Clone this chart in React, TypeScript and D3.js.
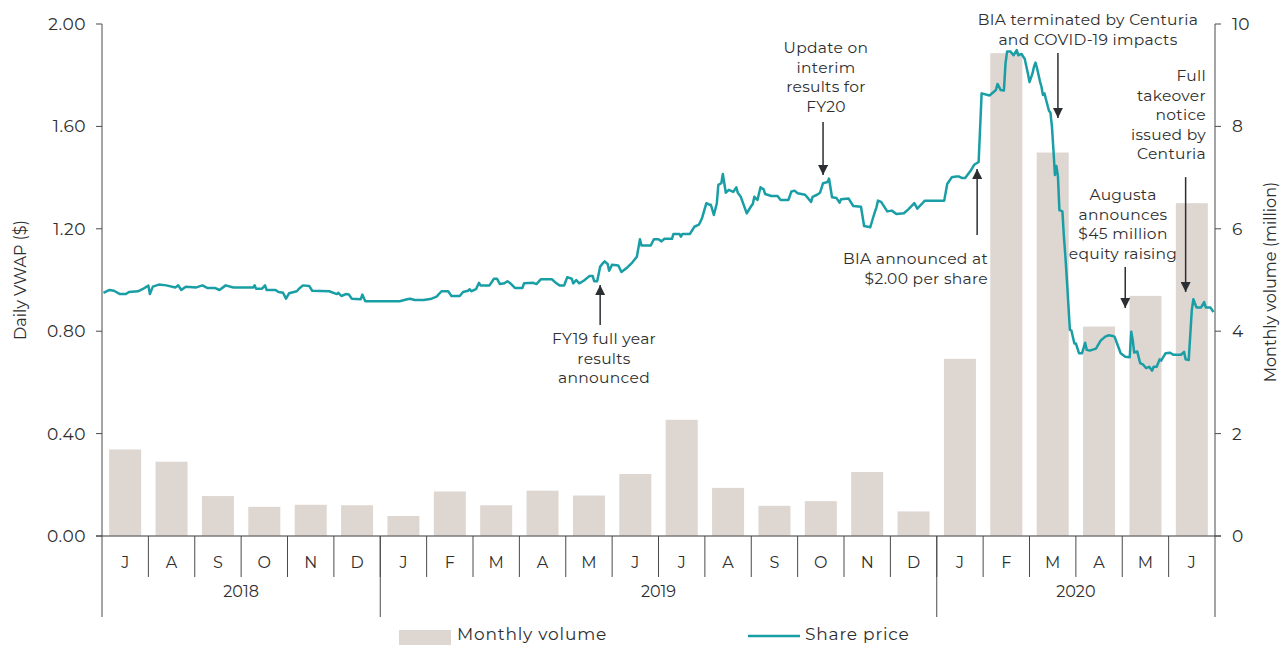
import React from "react";
import * as d3 from "d3";

// month labels, Jul 2018 .. Jun 2020
const months = ["J", "A", "S", "O", "N", "D", "J", "F", "M", "A", "M", "J", "J", "A", "S", "O", "N", "D", "J", "F", "M", "A", "M", "J"];
const years = [
  { label: "2018", from: 0, to: 6 },
  { label: "2019", from: 6, to: 18 },
  { label: "2020", from: 18, to: 24 },
];
// monthly volume (million)
const volume = [1.69, 1.45, 0.78, 0.57, 0.61, 0.6, 0.39, 0.87, 0.6, 0.885, 0.79, 1.21, 2.27, 0.94, 0.59, 0.68, 1.25, 0.48, 3.46, 9.43, 7.49, 4.09, 4.69, 6.5];
const priceTicks = [0, 0.4, 0.8, 1.2, 1.6, 2.0];
const volumeTicks = [0, 2, 4, 6, 8, 10];

// daily VWAP ($)
const sharePrice: [string, number][] = [
  ["2018-07-02", 0.95], ["2018-07-06", 0.961], ["2018-07-09", 0.958], ["2018-07-13", 0.945], ["2018-07-17", 0.945],
  ["2018-07-19", 0.953], ["2018-07-25", 0.956], ["2018-07-28", 0.964], ["2018-08-01", 0.978], ["2018-08-02", 0.945],
  ["2018-08-04", 0.974], ["2018-08-08", 0.982], ["2018-08-13", 0.979], ["2018-08-19", 0.971], ["2018-08-21", 0.979],
  ["2018-08-23", 0.961], ["2018-08-26", 0.974], ["2018-09-02", 0.971], ["2018-09-06", 0.979], ["2018-09-09", 0.969],
  ["2018-09-14", 0.969], ["2018-09-17", 0.961], ["2018-09-21", 0.979], ["2018-09-26", 0.971], ["2018-10-09", 0.971],
  ["2018-10-10", 0.979], ["2018-10-11", 0.966], ["2018-10-15", 0.966], ["2018-10-17", 0.979], ["2018-10-18", 0.961],
  ["2018-10-24", 0.961], ["2018-10-26", 0.953], ["2018-10-29", 0.95], ["2018-10-31", 0.927], ["2018-11-02", 0.948],
  ["2018-11-07", 0.956], ["2018-11-09", 0.969], ["2018-11-11", 0.979], ["2018-11-15", 0.977], ["2018-11-17", 0.958],
  ["2018-11-28", 0.956], ["2018-12-03", 0.945], ["2018-12-04", 0.95], ["2018-12-06", 0.9375], ["2018-12-09", 0.945],
  ["2018-12-11", 0.943], ["2018-12-13", 0.927], ["2018-12-19", 0.925], ["2018-12-20", 0.943], ["2018-12-22", 0.917],
  ["2019-01-14", 0.917], ["2019-01-19", 0.925], ["2019-01-21", 0.927], ["2019-01-24", 0.922], ["2019-01-30", 0.922],
  ["2019-02-04", 0.927], ["2019-02-07", 0.935], ["2019-02-10", 0.956], ["2019-02-14", 0.956], ["2019-02-16", 0.9375],
  ["2019-02-21", 0.9375], ["2019-02-23", 0.953], ["2019-02-26", 0.958], ["2019-02-27", 0.964], ["2019-02-28", 0.956],
  ["2019-03-03", 0.964], ["2019-03-05", 0.989], ["2019-03-06", 0.979], ["2019-03-12", 0.979], ["2019-03-15", 1.005],
  ["2019-03-17", 1.005], ["2019-03-19", 0.984], ["2019-03-22", 0.987], ["2019-03-24", 0.995], ["2019-03-26", 0.987],
  ["2019-03-29", 0.969], ["2019-04-03", 0.969], ["2019-04-04", 0.987], ["2019-04-10", 0.989], ["2019-04-12", 0.984],
  ["2019-04-15", 1.003], ["2019-04-22", 1.003], ["2019-04-25", 0.987], ["2019-04-27", 0.979], ["2019-04-30", 0.979],
  ["2019-05-02", 1.011], ["2019-05-05", 1.005], ["2019-05-06", 0.987], ["2019-05-08", 1.0], ["2019-05-10", 0.987],
  ["2019-05-13", 0.997], ["2019-05-17", 1.016], ["2019-05-19", 1.016], ["2019-05-20", 0.995], ["2019-05-22", 0.995],
  ["2019-05-24", 1.052], ["2019-05-25", 1.06], ["2019-05-27", 1.073], ["2019-05-29", 1.0625], ["2019-05-30", 1.036],
  ["2019-06-01", 1.06], ["2019-06-05", 1.057], ["2019-06-07", 1.031], ["2019-06-11", 1.05], ["2019-06-14", 1.068],
  ["2019-06-17", 1.091], ["2019-06-19", 1.159], ["2019-06-20", 1.135], ["2019-06-26", 1.135], ["2019-06-28", 1.159],
  ["2019-07-01", 1.159], ["2019-07-03", 1.151], ["2019-07-05", 1.161], ["2019-07-10", 1.161], ["2019-07-11", 1.18],
  ["2019-07-15", 1.18], ["2019-07-16", 1.169], ["2019-07-17", 1.18], ["2019-07-22", 1.18], ["2019-07-25", 1.208],
  ["2019-07-28", 1.216], ["2019-07-30", 1.24], ["2019-08-02", 1.3], ["2019-08-04", 1.294], ["2019-08-05", 1.294],
  ["2019-08-07", 1.254], ["2019-08-09", 1.3], ["2019-08-10", 1.372], ["2019-08-12", 1.378], ["2019-08-13", 1.414],
  ["2019-08-15", 1.341], ["2019-08-17", 1.352], ["2019-08-20", 1.344], ["2019-08-22", 1.362], ["2019-08-23", 1.341],
  ["2019-08-25", 1.325], ["2019-08-29", 1.26], ["2019-09-01", 1.289], ["2019-09-02", 1.297], ["2019-09-03", 1.325],
  ["2019-09-05", 1.3125], ["2019-09-07", 1.362], ["2019-09-09", 1.354], ["2019-09-10", 1.336], ["2019-09-14", 1.328],
  ["2019-09-18", 1.328], ["2019-09-20", 1.3125], ["2019-09-25", 1.3125], ["2019-09-27", 1.346], ["2019-09-29", 1.349],
  ["2019-10-01", 1.339], ["2019-10-06", 1.333], ["2019-10-10", 1.305], ["2019-10-11", 1.325], ["2019-10-14", 1.333],
  ["2019-10-16", 1.341], ["2019-10-18", 1.378], ["2019-10-21", 1.383], ["2019-10-22", 1.396], ["2019-10-24", 1.323],
  ["2019-10-27", 1.32], ["2019-10-29", 1.302], ["2019-10-30", 1.315], ["2019-11-04", 1.318], ["2019-11-07", 1.289],
  ["2019-11-12", 1.286], ["2019-11-14", 1.211], ["2019-11-18", 1.206], ["2019-11-20", 1.247], ["2019-11-21", 1.266],
  ["2019-11-22", 1.284], ["2019-11-23", 1.31], ["2019-11-25", 1.305], ["2019-11-29", 1.268], ["2019-12-02", 1.271],
  ["2019-12-05", 1.258], ["2019-12-10", 1.261], ["2019-12-13", 1.276], ["2019-12-17", 1.3], ["2019-12-19", 1.279],
  ["2019-12-22", 1.297], ["2019-12-24", 1.31], ["2020-01-06", 1.31], ["2020-01-08", 1.375], ["2020-01-11", 1.401],
  ["2020-01-14", 1.404], ["2020-01-16", 1.404], ["2020-01-18", 1.398], ["2020-01-20", 1.398], ["2020-01-24", 1.43],
  ["2020-01-26", 1.45], ["2020-01-29", 1.461], ["2020-01-31", 1.729], ["2020-02-05", 1.721], ["2020-02-09", 1.742],
  ["2020-02-10", 1.766], ["2020-02-12", 1.742], ["2020-02-14", 1.74], ["2020-02-15", 1.846], ["2020-02-16", 1.893],
  ["2020-02-18", 1.893], ["2020-02-20", 1.878], ["2020-02-22", 1.898], ["2020-02-23", 1.878], ["2020-02-25", 1.883],
  ["2020-02-27", 1.864], ["2020-02-29", 1.807], ["2020-03-01", 1.773], ["2020-03-03", 1.807], ["2020-03-04", 1.833],
  ["2020-03-05", 1.849], ["2020-03-06", 1.828], ["2020-03-08", 1.776], ["2020-03-09", 1.755], ["2020-03-10", 1.723],
  ["2020-03-11", 1.729], ["2020-03-12", 1.706], ["2020-03-14", 1.661], ["2020-03-15", 1.654], ["2020-03-16", 1.599],
  ["2020-03-17", 1.508], ["2020-03-18", 1.41], ["2020-03-19", 1.445], ["2020-03-20", 1.406], ["2020-03-21", 1.273],
  ["2020-03-23", 1.268], ["2020-03-24", 1.169], ["2020-03-25", 1.091], ["2020-03-26", 1.0], ["2020-03-28", 0.805],
  ["2020-03-29", 0.803], ["2020-03-31", 0.752], ["2020-04-01", 0.752], ["2020-04-03", 0.714], ["2020-04-05", 0.714],
  ["2020-04-07", 0.755], ["2020-04-08", 0.727], ["2020-04-10", 0.724], ["2020-04-14", 0.732], ["2020-04-17", 0.763],
  ["2020-04-20", 0.779], ["2020-04-22", 0.784], ["2020-04-25", 0.781], ["2020-04-26", 0.779], ["2020-04-28", 0.746],
  ["2020-04-30", 0.714], ["2020-05-03", 0.7], ["2020-05-06", 0.698], ["2020-05-07", 0.798], ["2020-05-08", 0.766],
  ["2020-05-09", 0.716], ["2020-05-11", 0.721], ["2020-05-13", 0.675], ["2020-05-15", 0.669], ["2020-05-17", 0.656],
  ["2020-05-19", 0.661], ["2020-05-21", 0.646], ["2020-05-22", 0.661], ["2020-05-24", 0.661], ["2020-05-26", 0.69],
  ["2020-05-27", 0.685], ["2020-05-30", 0.714], ["2020-06-02", 0.716], ["2020-06-04", 0.708], ["2020-06-09", 0.708],
  ["2020-06-11", 0.719], ["2020-06-12", 0.69], ["2020-06-14", 0.6875], ["2020-06-16", 0.883], ["2020-06-17", 0.925],
  ["2020-06-19", 0.893], ["2020-06-22", 0.893], ["2020-06-24", 0.914], ["2020-06-25", 0.893], ["2020-06-28", 0.893],
  ["2020-06-30", 0.875],
];

// arrows: date of the arrow, price at the tip and at the tail
const annotations = [
  { lines: ["FY19 full year", "results", "announced"], date: "2019-05-24", tip: 0.98, tail: 0.824, anchor: "middle", tx: 604, ty: 344 },
  { lines: ["Update on", "interim", "results for", "FY20"], date: "2019-10-18", tip: 1.41, tail: 1.617, anchor: "middle", tx: 826, ty: 53 },
  { lines: ["BIA announced at", "$2.00 per share"], date: "2020-01-28", tip: 1.434, tail: 1.176, anchor: "end", tx: 988, ty: 264 },
  { lines: ["BIA terminated by Centuria", "and COVID-19 impacts"], date: "2020-03-20", tip: 1.633, tail: 1.887, anchor: "middle", tx: 1088, ty: 25 },
  { lines: ["Augusta", "announces", "$45 million", "equity raising"], date: "2020-05-03", tip: 0.891, tail: 1.051, anchor: "middle", tx: 1123, ty: 200 },
  { lines: ["Full", "takeover", "notice", "issued by", "Centuria"], date: "2020-06-12", tip: 0.953, tail: 1.402, anchor: "end", tx: 1206, ty: 81 },
];

const FONT = "Montserrat, 'Open Sans', sans-serif";
const TEAL = "#1a9ea6";
const BAR = "#ded6d1";
const AXIS = "#4a4a4a";
const TEXT = "#2e2e2e";

// date -> fractional month position from Jul 2018
const monthPos = (s: string) => {
  const [y, m, d] = s.split("-").map(Number);
  const days = new Date(y, m, 0).getDate();
  return (y - 2018) * 12 + (m - 7) + (d - 1) / days;
};

const App: React.FC = () => {
  const width = 1280;
  const height = 645;
  const margin = { left: 102, right: 65, top: 24, bottom: 109 };
  const x0 = margin.left;
  const x1 = width - margin.right;
  const yBottom = height - margin.bottom;

  const xBand = d3.scaleBand<number>().domain(d3.range(months.length)).range([x0, x1]).paddingInner(0.31).paddingOuter(0.155);
  const xPos = d3.scaleLinear().domain([0, months.length]).range([x0, x1]);
  const yPrice = d3.scaleLinear().domain([0, 2]).range([yBottom, margin.top]);
  const yVol = d3.scaleLinear().domain([0, 10]).range([yBottom, margin.top]);

  const line = d3.line<[string, number]>()
    .x(d => xPos(monthPos(d[0])))
    .y(d => yPrice(d[1]))
    .curve(d3.curveLinear);

  const monthRow = yBottom + 41;
  const yearRow = yBottom + 68;

  return (
    <svg width={width} height={height} style={{ position: "absolute", left: 0, top: 0, fontFamily: FONT }}>
      <defs>
        <marker id="arrowHead" viewBox="0 0 10 10" refX="10" refY="5" markerWidth="10" markerHeight="10" markerUnits="userSpaceOnUse" orient="auto">
          <path d="M0,0 L10,5 L0,10 z" fill="#2b2f33" />
        </marker>
      </defs>

      {/* volume bars */}
      {volume.map((v, i) => (
        <rect key={i} x={xBand(i)} y={yVol(v)} width={xBand.bandwidth()} height={yBottom - yVol(v)} fill={BAR} />
      ))}

      {/* share price */}
      <path d={line(sharePrice) || ""} fill="none" stroke={TEAL} strokeWidth={2.5} strokeLinejoin="round" />

      {/* baseline */}
      <line x1={x0 - 6} x2={x1 + 6} y1={yBottom} y2={yBottom} stroke="#7a7a7a" strokeWidth={1.5} />

      {/* left axis */}
      <line x1={x0} x2={x0} y1={margin.top} y2={yearRow + 13} stroke={AXIS} strokeWidth={1} />
      {priceTicks.map(t => (
        <g key={t} transform={`translate(${x0},${yPrice(t)})`}>
          <line x1={-6} x2={0} stroke={AXIS} />
          <text x={-16} dy="0.35em" textAnchor="end" fontSize={17} letterSpacing={0.5} fill={TEXT}>{t.toFixed(2)}</text>
        </g>
      ))}
      <text transform={`translate(20,${(margin.top + yBottom) / 2}) rotate(-90)`} textAnchor="middle" dy="0.35em" fontSize={16} fill={TEXT}>Daily VWAP ($)</text>

      {/* right axis */}
      <line x1={x1} x2={x1} y1={margin.top} y2={yearRow + 13} stroke={AXIS} strokeWidth={1} />
      {volumeTicks.map(t => (
        <g key={t} transform={`translate(${x1},${yVol(t)})`}>
          <line x1={0} x2={6} stroke={AXIS} />
          <text x={17} dy="0.35em" textAnchor="start" fontSize={17} fill={TEXT}>{t}</text>
        </g>
      ))}
      <text transform={`translate(1270,${(margin.top + yBottom) / 2 + 2}) rotate(-90)`} textAnchor="middle" dy="0.35em" fontSize={16} fill={TEXT}>Monthly volume (million)</text>

      {/* month / year category axis */}
      {months.map((m, i) => (
        <g key={i}>
          {i > 0 && <line x1={xPos(i)} x2={xPos(i)} y1={yBottom} y2={monthRow} stroke={AXIS} />}
          <text x={xPos(i + 0.5)} y={yBottom + 26} dy="0.35em" textAnchor="middle" fontSize={16} fill={TEXT}>{m}</text>
        </g>
      ))}
      {years.map(y => (
        <g key={y.label}>
          {y.from > 0 && <line x1={xPos(y.from)} x2={xPos(y.from)} y1={yBottom} y2={yearRow + 13} stroke={AXIS} />}
          <text x={(xPos(y.from) + xPos(y.to)) / 2} y={yearRow - 13} dy="0.35em" textAnchor="middle" fontSize={16} fill={TEXT}>{y.label}</text>
        </g>
      ))}

      {/* annotations */}
      {annotations.map((a, i) => {
        const ax = xPos(monthPos(a.date));
        return (
          <g key={i}>
            <line x1={ax} x2={ax} y1={yPrice(a.tail)} y2={yPrice(a.tip)} stroke="#2b2f33" strokeWidth={1.5} markerEnd="url(#arrowHead)" />
            <text x={a.tx} y={a.ty} textAnchor={a.anchor} fontSize={15.5} letterSpacing={0.3} fill={TEXT}>
              {a.lines.map((l, j) => (
                <tspan key={j} x={a.tx} dy={j === 0 ? 0 : 19.6}>{l}</tspan>
              ))}
            </text>
          </g>
        );
      })}

      {/* legend */}
      <rect x={399} y={630} width={52} height={16} fill={BAR} />
      <text x={457} y={634} dy="0.35em" fontSize={17} letterSpacing={0.8} fill={TEXT}>Monthly volume</text>
      <line x1={748} x2={800} y1={636} y2={636} stroke={TEAL} strokeWidth={2.5} />
      <text x={805} y={634} dy="0.35em" fontSize={17} letterSpacing={0.8} fill={TEXT}>Share price</text>
    </svg>
  );
};

export default App;
